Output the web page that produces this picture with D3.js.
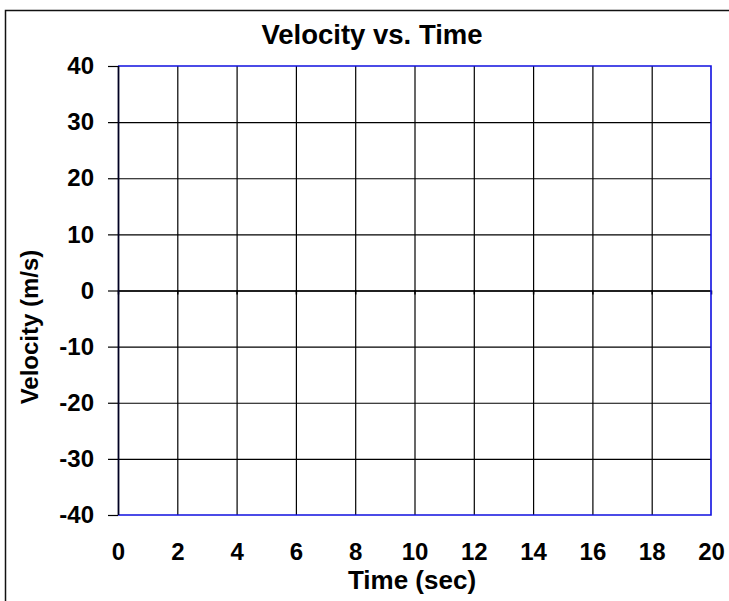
<!DOCTYPE html>
<html>
<head>
<meta charset="utf-8">
<script src="https://cdn.jsdelivr.net/npm/d3@7"></script>
<style>
  body { margin: 0; background: #fff; }
  svg text { font-family: "Liberation Sans", Arial, sans-serif; font-weight: bold; fill: #000; }
</style>
</head>
<body>
<svg id="chart"></svg>
<script>
var width = 729, height = 601;

// chart values
var titleText = "Velocity vs. Time";
var xLabelText = "Time (sec)";
var yLabelText = "Velocity  (m/s)";
var xDomain = [0, 20];
var yDomain = [-40, 40];
var xTicks = [0, 2, 4, 6, 8, 10, 12, 14, 16, 18, 20];
var yTicks = [-40, -30, -20, -10, 0, 10, 20, 30, 40];

var plot = {left: 118, right: 711, top: 66, bottom: 515};

const svg = d3.select('svg#chart')
  .attr('width', width)
  .attr('height', height);

// outer frame (only left + top visible)
svg.append("path")
  .attr("d", "M5.5," + height + "V10.5H" + width)
  .style("fill", "none")
  .style("stroke", "#111")
  .style("stroke-width", 1.5);

var x = d3.scaleLinear().domain(xDomain).range([plot.left, plot.right]);
var y = d3.scaleLinear().domain(yDomain).range([plot.bottom, plot.top]);

// vertical grid
svg.append("g")
  .attr("class", "gridV")
  .attr("transform", "translate(0," + plot.bottom + ")")
  .call(d3.axisBottom(x).tickValues(xTicks.slice(1, -1)).tickSize(-(plot.bottom - plot.top)).tickFormat(""))
  .call(g => g.select(".domain").remove())
  .selectAll("line").style("stroke", "#000").style("stroke-width", 1.2);

// horizontal grid
svg.append("g")
  .attr("class", "gridH")
  .attr("transform", "translate(" + plot.left + ",0)")
  .call(d3.axisLeft(y).tickValues(yTicks.slice(1, -1)).tickSize(-(plot.right - plot.left)).tickFormat(""))
  .call(g => g.select(".domain").remove())
  .selectAll("line").style("stroke", "#000").style("stroke-width", 1.2);

// x axis at zero with small ticks
var zeroAxis = svg.append("g")
  .attr("transform", "translate(0," + y(0) + ")")
  .call(d3.axisBottom(x).tickValues(xTicks).tickSize(4).tickSizeOuter(0).tickFormat(""));
zeroAxis.select(".domain").style("stroke", "#000").style("stroke-width", 1.5);
zeroAxis.selectAll("line").style("stroke", "#000").style("stroke-width", 1.5);

// plot border: top, right, bottom blue
svg.append("path")
  .attr("d", "M" + plot.left + "," + plot.top + "H" + plot.right + "V" + plot.bottom + "H" + plot.left)
  .style("fill", "none")
  .style("stroke", "#1010e0")
  .style("stroke-width", 1.6);

// y axis
var yAxis = svg.append("g")
  .attr("transform", "translate(" + plot.left + ",0)")
  .call(d3.axisLeft(y).tickValues(yTicks).tickSize(10).tickSizeOuter(0).tickPadding(14)
    .tickFormat(d => String(d)));
yAxis.select(".domain")
  .attr("d", "M0.5," + plot.top + "V" + plot.bottom)
  .style("stroke", "#000022").style("stroke-width", 1.8);
yAxis.selectAll("line").style("stroke", "#000").style("stroke-width", 1.2);
yAxis.selectAll("text").style("font-size", "24px");

// x axis labels
var xAxis = svg.append("g")
  .attr("transform", "translate(0," + plot.bottom + ")")
  .call(d3.axisBottom(x).tickValues(xTicks).tickSize(0).tickPadding(28));
xAxis.select(".domain").remove();
xAxis.selectAll("text").style("font-size", "24px");

// titles
svg.append("text")
  .attr("x", 372)
  .attr("y", 44)
  .attr("text-anchor", "middle")
  .style("font-size", "27.5px")
  .text(titleText);

svg.append("text")
  .attr("x", 412)
  .attr("y", 589)
  .attr("text-anchor", "middle")
  .style("font-size", "26px")
  .text(xLabelText);

svg.append("text")
  .attr("transform", "translate(38," + 327 + ") rotate(-90)")
  .attr("text-anchor", "middle")
  .style("font-size", "24px")
  .text(yLabelText);
</script>
</body>
</html>
